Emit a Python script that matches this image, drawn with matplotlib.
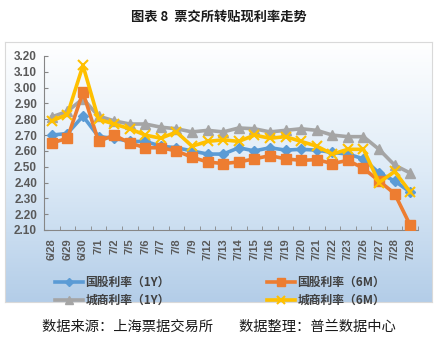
import matplotlib
matplotlib.use('Agg')
import matplotlib.pyplot as plt
from matplotlib.colors import LinearSegmentedColormap
import numpy as np

plt.rcParams['font.family'] = ['Noto Sans CJK SC', 'DejaVu Sans']

dates = ['6/28', '6/29', '6/30', '7/1', '7/2', '7/5', '7/6', '7/7', '7/8', '7/9',
         '7/12', '7/13', '7/14', '7/15', '7/16', '7/19', '7/20', '7/21', '7/22',
         '7/23', '7/26', '7/27', '7/28', '7/29']
gov_1y = [2.70, 2.71, 2.82, 2.69, 2.68, 2.66, 2.66, 2.63, 2.62, 2.60,
          2.58, 2.58, 2.62, 2.60, 2.62, 2.605, 2.61, 2.605, 2.59, 2.58,
          2.55, 2.46, 2.41, 2.34]
gov_6m = [2.65, 2.68, 2.97, 2.66, 2.70, 2.65, 2.62, 2.62, 2.60, 2.56,
          2.53, 2.52, 2.53, 2.55, 2.57, 2.55, 2.54, 2.545, 2.52, 2.54,
          2.49, 2.41, 2.33, 2.13]
city_1y = [2.815, 2.85, 2.93, 2.82, 2.79, 2.77, 2.77, 2.75, 2.74, 2.72,
           2.73, 2.72, 2.745, 2.74, 2.72, 2.73, 2.74, 2.73, 2.70, 2.69,
           2.69, 2.61, 2.51, 2.46]
city_6m = [2.79, 2.83, 3.14, 2.80, 2.77, 2.74, 2.70, 2.68, 2.72, 2.63,
           2.66, 2.67, 2.66, 2.70, 2.68, 2.69, 2.66, 2.63, 2.58, 2.61,
           2.61, 2.40, 2.47, 2.34]
labels = ['国股利率（1Y）', '国股利率（6M）', '城商利率（1Y）', '城商利率（6M）']
yticks = [2.10, 2.20, 2.30, 2.40, 2.50, 2.60, 2.70, 2.80, 2.90, 3.00, 3.10, 3.20]

W, H = 437, 352
fig = plt.figure(figsize=(W / 100, H / 100), dpi=100)

# gradient chart area
bg = fig.add_axes([5 / W, 1 - 302 / H, 427 / W, 260 / H])
cmap = LinearSegmentedColormap.from_list('bg', ['#ffffff', '#deebf7', '#b3cde8'])
grad = np.linspace(0, 1, 256).reshape(-1, 1)
bg.imshow(grad, aspect='auto', cmap=cmap, extent=[0, 1, 0, 1], origin='upper')
bg.set_xticks([])
bg.set_yticks([])
for s in bg.spines.values():
    s.set_color('#d9d9d9')
    s.set_linewidth(0.8)

ax = fig.add_axes([44 / W, 1 - 230 / H, 374 / W, 174 / H])
ax.set_facecolor('none')
x = np.arange(len(dates))
lw = 2.6
l1, = ax.plot(x, gov_1y, color='#5b9bd5', lw=lw, marker='D', ms=5, zorder=3)
l2, = ax.plot(x, gov_6m, color='#ed7d31', lw=lw, marker='s', ms=6.5, zorder=3)
l3, = ax.plot(x, city_1y, color='#a5a5a5', lw=lw, marker='^', ms=6.5, zorder=2)
l4, = ax.plot(x, city_6m, color='#ffc000', lw=lw, marker='x', ms=7, mew=1.5, zorder=4)

ax.set_xlim(-0.5, len(dates) - 0.5)
ax.set_ylim(2.10, 3.20)
ax.set_yticks(yticks)
ax.set_yticklabels(['%.2f' % v for v in yticks], fontsize=8.5, fontweight='bold',
                   color='#595959', family='Liberation Sans')
ax.set_xticks(x)
ax.set_xticklabels(dates, rotation=90, fontsize=8, fontweight='bold',
                   color='#595959', family='Liberation Sans')
ax.set_xticks(np.arange(-0.5, len(dates)), minor=True)
ax.tick_params(axis='x', which='major', length=0, pad=6)
ax.tick_params(axis='x', which='minor', length=3, direction='in', color='#868686')
ax.tick_params(axis='y', length=3, direction='in', color='#868686', pad=5)
for side in ['top', 'right']:
    ax.spines[side].set_visible(False)
for side in ['left', 'bottom']:
    ax.spines[side].set_color('#868686')
    ax.spines[side].set_linewidth(0.8)

# legend: rows are 国股 then 城商 (ncol fills column-wise)
fig.legend([l1, l3, l2, l4], [labels[0], labels[2], labels[1], labels[3]],
           ncol=2, loc='upper left', bbox_to_anchor=(49 / W, 1 - 270 / H),
           frameon=False, prop={'size': 8.5, 'weight': 'bold'}, labelcolor='#404040',
           handlelength=2.4, handletextpad=0.2, columnspacing=8.2, markerscale=0.8,
           labelspacing=0.45, borderpad=0)

fig.text(0.5, 1 - 17 / H, '图表 8  票交所转贴现利率走势', ha='center', va='center',
         fontsize=9.5, fontweight='bold', color='#1a1a1a')
fig.text(0.5, 1 - 327 / H, '数据来源：上海票据交易所        数据整理：普兰数据中心',
         ha='center', va='center', fontsize=10.3, color='#1a1a1a')

fig.savefig('out.png', dpi=100)
